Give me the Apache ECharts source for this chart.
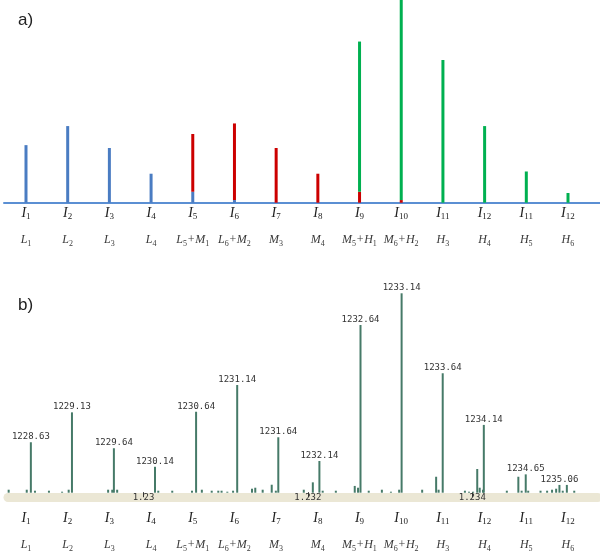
<!DOCTYPE html>
<html>
<head>
<meta charset="utf-8">
<script src="https://cdn.jsdelivr.net/npm/echarts@6/dist/echarts.min.js"></script>
<style>html,body{margin:0;padding:0;background:#fff}#c{width:600px;height:553px}</style>
</head>
<body>
<div id="c"></div>
<script>
// ---- Panel a: isotope pattern contributions ----
const topLabels = ['I1','I2','I3','I4','I5','I6','I7','I8','I9','I10','I11','I12','I11','I12'];
const bottomLabels = ['L1','L2','L3','L4','L5+M1','L6+M2','M3','M4','M5+H1','M6+H2','H3','H4','H5','H6'];
const lightValues  = [28.4, 37.8, 27.0, 14.3, 5.4, 1.3, '-', '-', '-', '-', '-', '-', '-', '-'];
const mediumValues = ['-', '-', '-', '-', 28.5, 37.8, 27.0, 14.3, 5.4, 1.3, '-', '-', '-', '-'];
const heavyValues  = ['-', '-', '-', '-', '-', '-', '-', '-', 74.1, 98.7, 70.4, 37.8, 15.4, 4.8];

// ---- Panel b: measured spectrum (m/z, relative intensity) ----
const mainMz  = [1228.63, 1229.13, 1229.64, 1230.14, 1230.64, 1231.14, 1231.64, 1232.14, 1232.64, 1233.14, 1233.64, 1234.14, 1234.65, 1235.06];
const mainInt = [25.3, 40.3, 22.3, 13.0, 40.6, 54.0, 27.8, 15.9, 84.1, 100, 59.9, 34.0, 9.2, 3.9];
const minorMz  = [1228.36,1228.58,1228.68,1228.85,1229.01,1229.09,1229.57,1229.62,1229.68,1230.18,1230.35,1230.59,1230.71,1230.83,1230.91,1230.95,1231.02,1231.09,1231.32,1231.36,1231.45,1231.56,1231.61,1231.95,1232.06,1232.18,1232.34,1232.57,1232.61,1232.74,1232.90,1233.01,1233.11,1233.39,1233.56,1233.59,1233.91,1233.96,1234.01,1234.06,1234.09,1234.13,1234.42,1234.56,1234.60,1234.68,1234.83,1234.91,1234.97,1235.02,1235.10,1235.15,1235.24];
const minorInt = [1.5,1.5,1.0,1.0,0.5,1.5,1.5,1.5,1.5,1.0,1.0,1.0,1.5,1.0,1.0,1.0,0.5,1.0,2.0,2.5,1.5,4.0,1.0,1.5,5.2,1.0,1.0,3.4,2.5,1.0,1.5,0.5,1.5,1.5,8.0,1.5,1.0,0.5,0.5,11.9,2.5,1.5,1.0,8.0,1.0,1.0,1.0,1.0,1.5,2.0,1.0,3.9,1.0];
const mzTicks = [1230, 1232, 1234];

const idx = topLabels.map((_, i) => i);
const cats = topLabels.map((s, i) => 'c' + i);

function richLabel(s, big) {
  const st = big ? 'it' : 'it2', sb = big ? 'sb' : 'sb2';
  return s.replace(/([A-Z+]+)(\d+)/g, (m, a, d) => '{' + st + '|' + a + '}{' + sb + '|' + d + '}');
}
const serif = 'Liberation Serif';
const rich = {
  it:  {fontFamily: serif, fontStyle: 'italic', fontSize: 14, color: '#222', lineHeight: 16, verticalAlign: 'middle'},
  sb:  {fontFamily: serif, fontSize: 9, color: '#222', verticalAlign: 'bottom'},
  it2: {fontFamily: serif, fontStyle: 'italic', fontSize: 12, color: '#3a3a3a', lineHeight: 16, verticalAlign: 'middle'},
  sb2: {fontFamily: serif, fontSize: 8, color: '#3a3a3a', verticalAlign: 'bottom'}
};
const catMin = -0.528, catMax = 13.77;
function labelAxis(grid, labels, big, margin, showLine) {
  return {
    type: 'value', gridIndex: grid, position: 'bottom', min: catMin, max: catMax,
    splitLine: {show: false}, axisTick: {show: false},
    axisLine: showLine ? {show: true, onZero: false, lineStyle: {color: '#5b8fd3', width: 2}} : {show: false, onZero: false},
    axisLabel: {
      show: true, customValues: idx, margin: margin, hideOverlap: false,
      formatter: v => richLabel(labels[Math.round(v)], big), rich: rich
    }
  };
}

const chart = echarts.init(document.getElementById('c'), null, {renderer: 'canvas'});
const barItems = mainMz.map((m, i) => ({value: [m, mainInt[i]], label: {show: true}}))
  .concat(minorMz.map((m, i) => ({value: [m, minorInt[i]], label: {show: false}})));

chart.setOption({
  animation: false,
  backgroundColor: '#fff',
  title: [
    {text: 'a)', left: 13, top: 7, textStyle: {fontFamily: 'Liberation Sans', fontSize: 17, fontWeight: 'normal', color: '#222'}},
    {text: 'b)', left: 13, top: 292, textStyle: {fontFamily: 'Liberation Sans', fontSize: 17, fontWeight: 'normal', color: '#222'}}
  ],
  grid: [
    {left: 4, right: 0, top: 0, bottom: 350.3},
    {left: 8, right: 2, top: 293.3, bottom: 60.3},
    {left: 4, right: 0, top: 480, bottom: 53},
    {left: 5.15, right: 11.15, top: 0, bottom: 350.3}
  ],
  xAxis: [
    labelAxis(0, topLabels, true, 2.5, true),
    labelAxis(0, bottomLabels, false, 29.5, false),
    {
      type: 'value', gridIndex: 1, position: 'bottom', min: 1228.352, max: 1235.529, offset: 4.5,
      splitLine: {show: false},
      axisLine: {show: true, onZero: false, lineStyle: {color: '#ebe7d5', width: 9}},
      axisTick: {show: true, customValues: mzTicks, inside: true, length: 5, lineStyle: {color: '#333', width: 1}},
      axisLabel: {show: true, customValues: mzTicks, margin: -4, formatter: v => String(v / 1000),
        fontFamily: 'DejaVu Sans Mono', fontSize: 9, color: '#333'}
    },
    labelAxis(2, topLabels, true, 14, false),
    labelAxis(2, bottomLabels, false, 41, false),
    {type: 'category', gridIndex: 3, data: cats, show: false, boundaryGap: true}
  ],
  yAxis: [
    {type: 'value', gridIndex: 0, min: 0, max: 100, show: false},
    {type: 'value', gridIndex: 1, min: 0, max: 100, show: false},
    {type: 'value', gridIndex: 2, min: 0, max: 1, show: false},
    {type: 'value', gridIndex: 3, min: 0, max: 100, show: false}
  ],
  series: [
    {type: 'bar', name: 'L', xAxisIndex: 5, yAxisIndex: 3, stack: 'a', barWidth: 3, data: lightValues, itemStyle: {color: '#4a7cc2'}},
    {type: 'bar', name: 'M', xAxisIndex: 5, yAxisIndex: 3, stack: 'a', barWidth: 3, data: mediumValues, itemStyle: {color: '#cc0000'}},
    {type: 'bar', name: 'H', xAxisIndex: 5, yAxisIndex: 3, stack: 'a', barWidth: 3, data: heavyValues, itemStyle: {color: '#00b050'}},
    {type: 'bar', name: 'spectrum', xAxisIndex: 2, yAxisIndex: 1, barWidth: 2, data: barItems,
      itemStyle: {color: '#467a68'},
      label: {position: 'top', distance: 1, fontFamily: 'DejaVu Sans Mono', fontSize: 9, color: '#333',
        formatter: p => p.value[0].toFixed(2)}}
  ]
});
</script>
</body>
</html>
